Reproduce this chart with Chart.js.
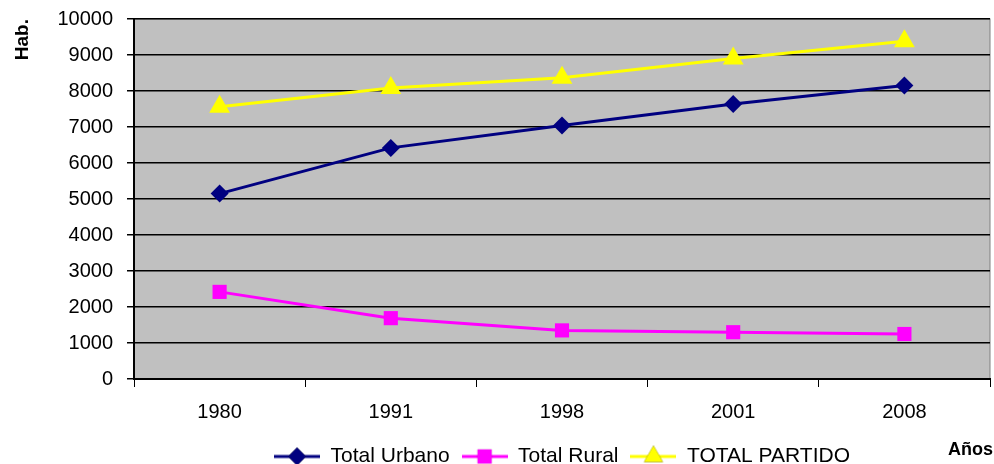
<!DOCTYPE html>
<html>
<head>
<meta charset="utf-8">
<script src="https://cdn.jsdelivr.net/npm/chart.js"></script>
<style>
  html, body { margin: 0; padding: 0; background: #fff; overflow: hidden; }
  #wrap { width: 994px; height: 464px; }
</style>
</head>
<body>
<div id="wrap"><canvas id="lineChart"></canvas></div>
<script>
// values
const years = ['1980', '1991', '1998', '2001', '2008'];
const totalUrbano = [5150, 6420, 7040, 7640, 8150];
const totalRural = [2420, 1690, 1350, 1300, 1250];
const totalPartido = [7560, 8080, 8370, 8900, 9380];

const FONT = "'Liberation Sans', Arial, sans-serif";

// legend swatch: a short line with the marker on it, like the old office charts
function swatch(color, style, r) {
  const c = document.createElement('canvas');
  c.width = 46; c.height = 24;
  const g = c.getContext('2d');
  g.strokeStyle = color; g.lineWidth = 3;
  g.beginPath(); g.moveTo(0, 12); g.lineTo(46, 12); g.stroke();
  Chart.helpers.drawPoint(g, { pointStyle: style, radius: r, borderWidth: 0, rotation: 0 }, 23, 12);
  g.fillStyle = color; g.fill();
  return c;
}

const plotBg = {
  id: 'plotBg',
  beforeDraw(chart) {
    const { ctx, chartArea: a } = chart;
    ctx.save();
    ctx.fillStyle = '#c0c0c0';
    ctx.fillRect(a.left, a.top, a.right - a.left, a.bottom - a.top);
    ctx.strokeStyle = '#808080';
    ctx.lineWidth = 1;
    ctx.strokeRect(a.left, a.top, a.right - a.left, a.bottom - a.top);
    ctx.restore();
  },
  afterDraw(chart) {
    // "Años" sits on the legend row, at the far right
    const ctx = chart.ctx;
    ctx.save();
    ctx.font = 'bold 18px ' + FONT;
    ctx.fillStyle = '#000';
    ctx.textAlign = 'right';
    ctx.textBaseline = 'middle';
    ctx.fillText('Años', 993, 450);
    ctx.restore();
  }
};

const ctx = document.getElementById('lineChart').getContext('2d');

const chart = new Chart(ctx, {
  type: 'line',
  data: {
    labels: years,
    datasets: [{
      label: 'Total Urbano',
      data: totalUrbano,
      borderColor: '#000080',
      backgroundColor: '#000080',
      borderWidth: 3,
      pointStyle: 'rectRot',
      pointRadius: 9,
      pointBorderWidth: 0,
      _swatch: ['#000080', 'rectRot', 9]
    }, {
      label: 'Total Rural',
      data: totalRural,
      borderColor: '#ff00ff',
      backgroundColor: '#ff00ff',
      borderWidth: 3,
      pointStyle: 'rect',
      pointRadius: 10,
      pointBorderWidth: 0,
      _swatch: ['#ff00ff', 'rect', 10]
    }, {
      label: 'TOTAL PARTIDO',
      data: totalPartido,
      borderColor: '#ffff00',
      backgroundColor: '#ffff00',
      borderWidth: 3,
      pointStyle: 'triangle',
      pointRadius: 12,
      pointBorderWidth: 0,
      _swatch: ['#ffff00', 'triangle', 11]
    }]
  },
  options: {
    responsive: true,
    maintainAspectRatio: false,
    animation: false,
    layout: { autoPadding: false, padding: { top: 19, right: 4, left: 0, bottom: -13 } },
    plugins: {
      tooltip: { enabled: false },
      legend: {
        position: 'bottom',
        fullSize: false,
        labels: {
          usePointStyle: true,
          pointStyleWidth: 46,
          padding: 12,
          color: '#000',
          font: { family: FONT, size: 21 },
          generateLabels(chart) {
            return chart.data.datasets.map((ds, i) => ({
              text: ds.label,
              pointStyle: swatch.apply(null, ds._swatch),
              fillStyle: ds.borderColor,
              strokeStyle: ds.borderColor,
              lineWidth: 0,
              hidden: false,
              datasetIndex: i,
              fontColor: '#000'
            }));
          }
        }
      }
    },
    scales: {
      x: {
        offset: true,
        afterFit(scale) { scale.height = 55; },
        grid: { drawOnChartArea: false, color: '#000', tickLength: 8, offset: true },
        border: { color: '#000', width: 2 },
        ticks: { color: '#000', padding: 13, font: { family: FONT, size: 20 } }
      },
      y: {
        min: 0,
        max: 10000,
        afterFit(scale) {
          scale.width = 134;
          scale.paddingTop = 0;
          scale.paddingBottom = 0;
        },
        title: {
          display: true,
          text: 'Hab.',
          align: 'end',
          color: '#000',
          padding: { top: 11, bottom: 0 },
          font: { family: FONT, size: 19, weight: 'bold' }
        },
        grid: { color: '#000', lineWidth: 1.5, tickLength: 7 },
        border: { color: '#000', width: 2 },
        ticks: {
          stepSize: 1000,
          color: '#000',
          padding: 14,
          font: { family: FONT, size: 20 },
          callback: v => String(v)
        }
      }
    }
  },
  plugins: [plotBg]
});
</script>
</body>
</html>
